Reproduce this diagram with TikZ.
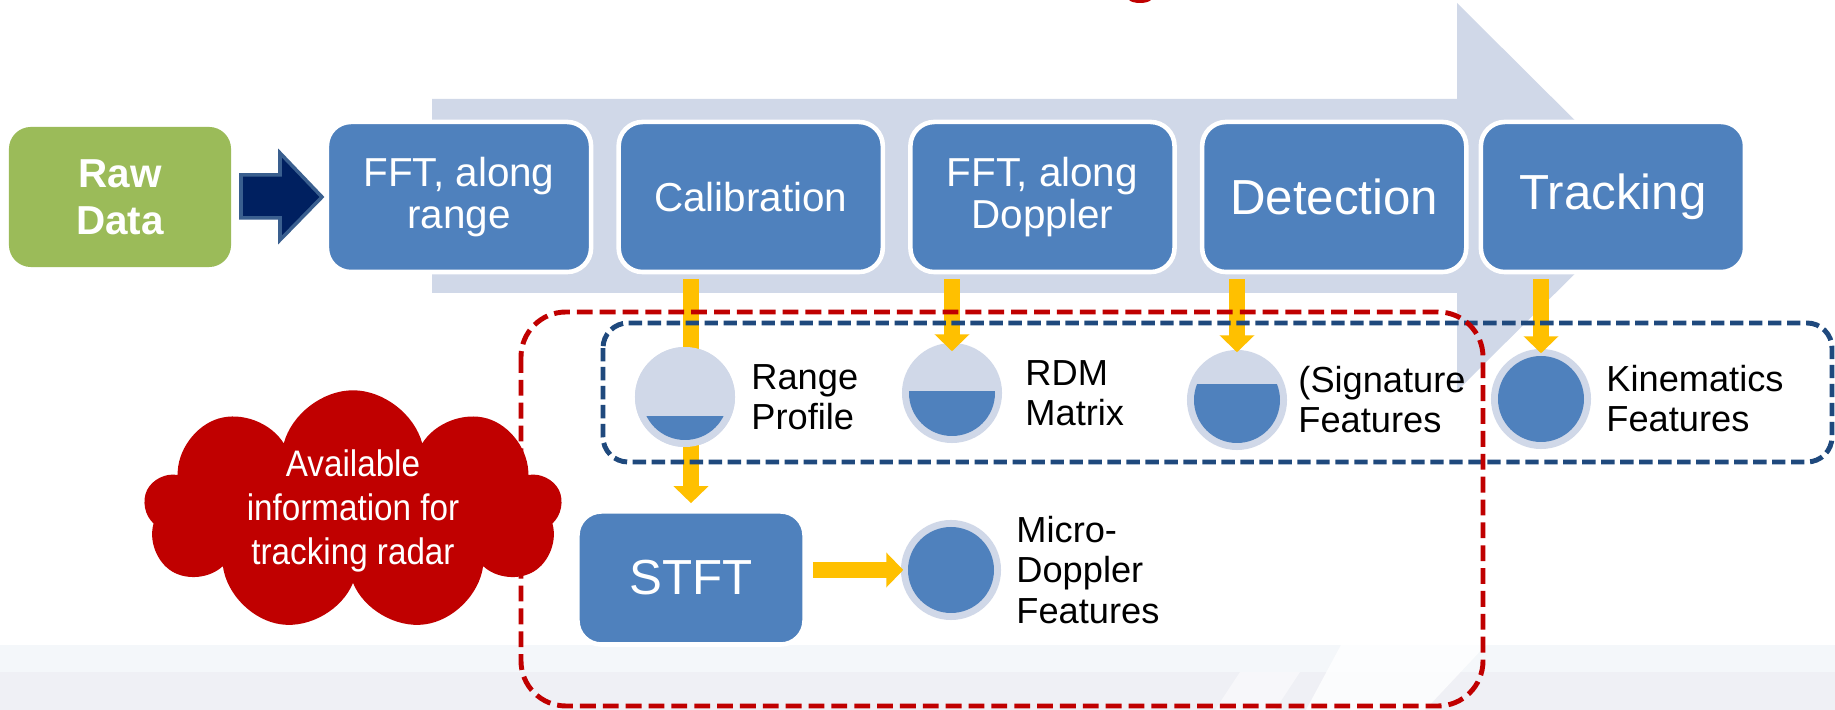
\documentclass[tikz,border=0pt]{standalone}
\usepackage{fontspec}
\setmainfont{Liberation Sans}
\newfontfamily\narrowfont[FakeStretch=0.9]{Liberation Sans}
\usepackage{xcolor}
\usetikzlibrary{arrows.meta}
\usetikzlibrary{shapes.symbols}
\usetikzlibrary{positioning}

\definecolor{procblue}{HTML}{4F81BD}
\definecolor{flowgray}{HTML}{D0D8E8}
\definecolor{rawgreen}{HTML}{9BBB59}
\definecolor{navyarrow}{HTML}{002060}
\definecolor{navyedge}{HTML}{3A5F8F}
\definecolor{featyellow}{HTML}{FFC000}
\definecolor{cloudred}{HTML}{C00000}
\definecolor{frameblue}{HTML}{1F497D}
\definecolor{bandone}{HTML}{F4F7FA}
\definecolor{bandtwo}{HTML}{EFF0F5}

\begin{document}
\begin{tikzpicture}[x=0.01cm, y=-0.01cm,
	proc/.style={rectangle, rounded corners=0.24cm, fill=procblue, draw=white, line width=1.3pt,
		minimum width=2.64cm, minimum height=1.50cm, text=white, align=center, inner sep=0pt},
	proctext/.style={font=\fontsize{11.5}{12}\selectfont},
	bigtext/.style={font=\fontsize{14}{16}\selectfont},
	rawbox/.style={rectangle, rounded corners=0.22cm, fill=rawgreen, minimum width=2.22cm,
		minimum height=1.40cm, text=white, align=center, font=\bfseries\fontsize{11.5}{13.3}\selectfont},
	feat/.style={circle, fill=flowgray, minimum size=1.0cm, inner sep=0pt},
	lbl/.style={align=left, inner sep=0pt, font=\fontsize{10.3}{11.4}\selectfont},
	yarrow/.style={draw=featyellow, line width=0.16cm, -{Triangle[width=0.34cm, length=0.17cm]}},
	frame/.style={line width=1.4pt, rounded corners=#1}]

	\useasboundingbox (0,0) rectangle (1835,710);

	% background bands
	\fill[white] (0,0) rectangle (1835,710);
	\fill[bandone] (0,645) rectangle (1835,710);
	\fill[bandtwo] (0,672) rectangle (1835,710);
	\fill[white, opacity=.8] (1341,645) -- (1486,645) -- (1425,710) -- (1306,710) -- cycle;
	\fill[white, opacity=.5] (1240,672) -- (1300,672) -- (1275,710) -- (1215,710) -- cycle;

	% red mark at top
	\fill[cloudred] (1129,0) .. controls (1133,4) and (1147,4) .. (1151,0) -- cycle;

	% big process arrow
	\fill[flowgray] (432,99) -- (1457,99) -- (1457,3) -- (1652,197) -- (1457,391) -- (1457,293) -- (432,293) -- cycle;

	% Processing boxes
	\node[rawbox] (raw) at (120,197) {Raw\\Data};
	\node[proc, proctext] (fft) at (459,197) {FFT, along\\range};
	\node[proc, proctext, right=0.23cm of fft] (calib) {Calibration};
	\node[proc, proctext, right=0.23cm of calib] (dopp) {FFT, along\\Doppler};
	\node[proc, bigtext, right=0.23cm of dopp] (detect) {Detection};
	\node[proc, bigtext, right=0.10cm of detect] (track) {Tracking};
	\node[proc, bigtext, minimum width=2.27cm, minimum height=1.33cm] (stft) at (691,578) {STFT};

	% navy block arrow
	\filldraw[fill=navyarrow, draw=navyedge, line width=1pt] (241,175) -- (280,175) -- (280,153) -- (322,197)
		-- (280,240) -- (280,218) -- (241,218) -- cycle;

	% Feature circles
	\node[feat] (rp) at (685,397) {};
	\node[feat] (rdm) at (952,393) {};
	\node[feat] (sig) at (1237,400) {};
	\node[feat] (kin) at (1541,399) {};
	\node[feat] (micro) at (951,570) {};

	% Arrows
	\draw[yarrow, shorten <=0.05cm, shorten >=0.06cm] (stft.north |- calib.south) -- (stft.north);
	\draw[yarrow, shorten <=0.05cm, shorten >=-0.09cm] (rdm.north |- dopp.south) -- (rdm.north);
	\draw[yarrow, shorten <=0.05cm, shorten >=-0.03cm] (sig.north |- detect.south) -- (sig.north);
	\draw[yarrow, shorten <=0.05cm, shorten >=-0.05cm] (kin.north |- track.south) -- (kin.north);
	\draw[yarrow, shorten <=0.06cm, shorten >=-0.03cm] (stft.east |- micro.west) -- (micro.west);

	% circles drawn again over the calibration arrow
	\fill[flowgray] (rp.center) circle (50);
	\foreach \n/\lvl in {rp/19, rdm/-2, sig/-16} {
		\begin{scope}
			\clip (\n.center) circle (43);
			\fill[procblue] ([xshift=-0.5cm, yshift=-\lvl*0.01cm]\n.center) rectangle ([xshift=0.5cm, yshift=-0.5cm]\n.center);
		\end{scope}
	}
	\fill[procblue] (kin.center) circle (43);
	\fill[procblue] (micro.center) circle (43);

	% Labels
	\node[lbl, right=0.15cm of rp] (rplbl) {Range\\Profile};
	\node[lbl, right=0.22cm of rdm] (rdmlbl) {RDM\\Matrix};
	\node[lbl, right=0.10cm of sig] (siglbl) {(Signature\\Features};
	\node[lbl, right=0.14cm of kin] (kinlbl) {Kinematics\\Features};
	\node[lbl, right=0.14cm of micro] (microlbl) {Micro-\\Doppler\\Features};

	% dashed frames
	\draw[frame=0.25cm, frameblue, dash pattern=on 3.8pt off 1.6pt] (603,323) rectangle (1832,462);
	\draw[frame=0.45cm, cloudred, dash pattern=on 4.5pt off 2pt] (521,312) rectangle (1483,706);

	% cloud
	\node[cloud, cloud puffs=9, cloud ignores aspect, fill=cloudred, text=white, align=center,
		minimum width=4.18cm, minimum height=2.3cm, inner sep=0pt,
		font=\narrowfont\fontsize{10.5}{12.5}\selectfont] (info) at (353,511) {Available\\information for\\tracking radar};

\end{tikzpicture}
\end{document}
